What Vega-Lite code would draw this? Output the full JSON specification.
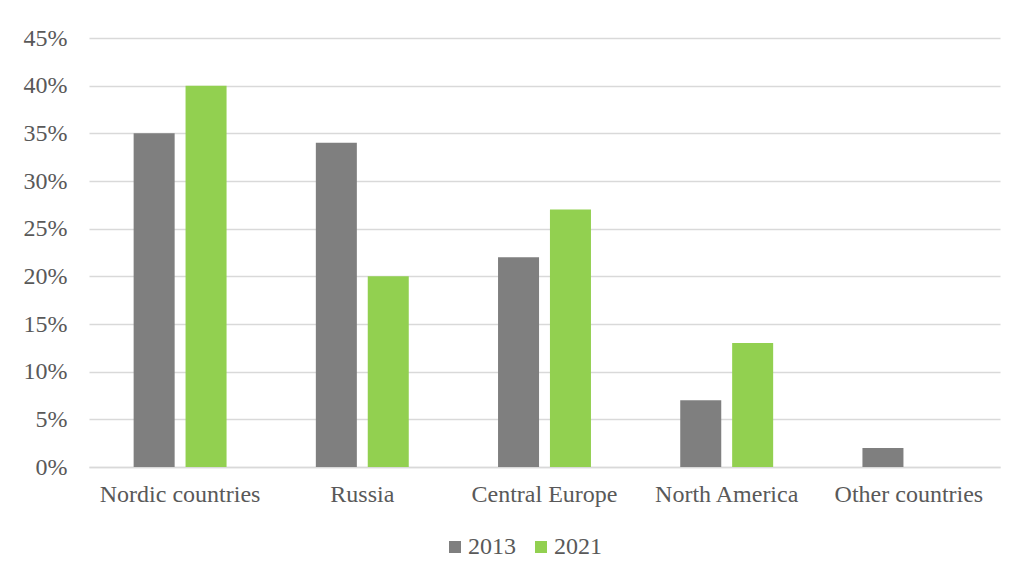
{
  "$schema": "https://vega.github.io/schema/vega-lite/v6.json",
  "width": 911,
  "height": 429,
  "autosize": {"type": "none"},
  "padding": {"left": 89, "top": 38, "right": 17, "bottom": 112},
  "background": "#ffffff",
  "data": {
    "values": [
      {"region": "Nordic countries", "year": "2013", "share": 0.35},
      {"region": "Nordic countries", "year": "2021", "share": 0.40},
      {"region": "Russia", "year": "2013", "share": 0.34},
      {"region": "Russia", "year": "2021", "share": 0.20},
      {"region": "Central Europe", "year": "2013", "share": 0.22},
      {"region": "Central Europe", "year": "2021", "share": 0.27},
      {"region": "North America", "year": "2013", "share": 0.07},
      {"region": "North America", "year": "2021", "share": 0.13},
      {"region": "Other countries", "year": "2013", "share": 0.02},
      {"region": "Other countries", "year": "2021", "share": 0.0}
    ]
  },
  "mark": {"type": "bar"},
  "encoding": {
    "x": {
      "field": "region",
      "type": "nominal",
      "sort": null,
      "scale": {"paddingInner": 0.49, "paddingOuter": 0.245},
      "axis": {
        "title": null,
        "labelAngle": 0,
        "labelPadding": 15,
        "ticks": false,
        "domain": true,
        "domainColor": "#d9d9d9",
        "domainWidth": 1.5
      }
    },
    "xOffset": {
      "field": "year",
      "type": "nominal",
      "scale": {"paddingInner": 0.21, "paddingOuter": 0}
    },
    "y": {
      "field": "share",
      "type": "quantitative",
      "scale": {"domain": [0, 0.45], "nice": false},
      "axis": {
        "title": null,
        "format": ".0%",
        "values": [0, 0.05, 0.1, 0.15, 0.2, 0.25, 0.3, 0.35, 0.4, 0.45],
        "ticks": false,
        "domain": false,
        "labelPadding": 22,
        "grid": true,
        "gridColor": "#d9d9d9",
        "gridWidth": 1.5
      }
    },
    "color": {
      "field": "year",
      "type": "nominal",
      "scale": {"domain": ["2013", "2021"], "range": ["#7f7f7f", "#92d050"]},
      "legend": {
        "title": null,
        "orient": "none",
        "legendX": 354,
        "legendY": 497,
        "direction": "horizontal",
        "symbolType": "square",
        "symbolSize": 144,
        "symbolStrokeWidth": 0,
        "columnPadding": 13,
        "labelOffset": 1
      }
    }
  },
  "config": {
    "view": {"stroke": null},
    "font": "Times New Roman, Liberation Serif, serif",
    "axis": {
      "labelFont": "Times New Roman, Liberation Serif, serif",
      "labelFontSize": 24,
      "labelColor": "#595959"
    },
    "legend": {
      "labelFont": "Times New Roman, Liberation Serif, serif",
      "labelFontSize": 24,
      "labelColor": "#595959"
    }
  }
}
